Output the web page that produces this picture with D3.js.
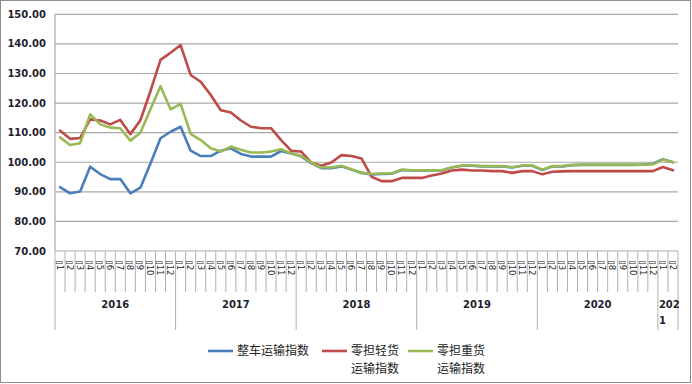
<!DOCTYPE html>
<html>
<head>
<meta charset="utf-8">
<script src="https://cdn.jsdelivr.net/npm/d3@7"></script>
<style>
  body { margin: 0; background: #fff; }
  svg { display: block; }
</style>
</head>
<body>
<div id="chart"></div>
<script>
// Years shown on the second level of the category axis.
const years = ["2016", "2017", "2018", "2019", "2020", "2021"];
// Months present in each year (2021 only has Jan and Feb).
const monthsPerYear = [12, 12, 12, 12, 12, 2];
// Series names for the legend.
const seriesNames = ["整车运输指数", "零担轻货运输指数", "零担重货运输指数"];
// Y axis ticks.
const yTicks = [70, 80, 90, 100, 110, 120, 130, 140, 150];

// 整车运输指数
const wholeTruck = [
  91.6, 89.5, 90.1, 98.5, 96.0, 94.3, 94.3, 89.5, 91.4, 99.6, 108.1, 110.3,
  112.0, 103.9, 102.1, 102.1, 103.9, 104.7, 102.8, 101.9, 101.9, 101.9, 103.8, 103.0,
  102.0, 99.7, 98.0, 98.0, 98.6, 97.5, 96.4, 95.9, 96.0, 96.1, 97.4, 97.2,
  97.2, 97.2, 97.2, 98.2, 98.8, 98.8, 98.6, 98.6, 98.6, 98.2, 98.8, 98.8,
  97.4, 98.6, 98.6, 99.0, 99.1, 99.1, 99.1, 99.1, 99.1, 99.1, 99.2, 99.5,
  101.0, 100.0
];
// 零担轻货运输指数
const lightFreight = [
  110.7, 107.9, 108.2, 114.5, 114.1, 112.8, 114.3, 109.5, 114.2, 124.0, 134.6, 137.0,
  139.6, 129.5, 127.2, 122.7, 117.6, 116.8, 114.1, 112.0, 111.5, 111.5, 107.5, 103.9,
  103.6, 99.9, 98.8, 99.9, 102.4, 102.1, 101.3, 95.1, 93.6, 93.6, 94.7, 94.7,
  94.7, 95.5, 96.2, 97.2, 97.5, 97.2, 97.2, 97.0, 97.0, 96.4, 97.0, 97.0,
  95.9, 96.8, 96.9, 97.0, 97.0, 97.0, 97.0, 97.0, 97.0, 97.0, 97.0, 97.0,
  98.4, 97.3
];
// 零担重货运输指数
const heavyFreight = [
  108.4, 105.8, 106.4, 116.2, 112.8, 111.7, 111.5, 107.3, 110.0, 117.9, 125.7, 117.9,
  119.7, 109.6, 107.5, 104.7, 103.6, 105.3, 104.2, 103.3, 103.3, 103.6, 104.4, 103.0,
  102.1, 99.9, 98.2, 98.2, 98.8, 97.6, 96.5, 96.0, 96.2, 96.2, 97.5, 97.3,
  97.3, 97.3, 97.3, 98.3, 98.9, 98.9, 98.7, 98.7, 98.7, 98.3, 98.9, 98.9,
  97.5, 98.7, 98.7, 99.1, 99.2, 99.2, 99.2, 99.2, 99.2, 99.2, 99.2, 99.3,
  100.9, 100.0
];

const colors = ["#4a7ebb", "#be4b48", "#98b954"];
const seriesData = [wholeTruck, lightFreight, heavyFreight];

const width = 692, height = 384;
const plot = { left: 55, right: 678, top: 14.3, bottom: 251 };

// Build the category list (year, month) from the tick arrays.
const categories = [];
years.forEach((yr, yi) => {
  for (let m = 1; m <= monthsPerYear[yi]; m++) categories.push({ year: yr, month: m });
});

const svg = d3.select("#chart").append("svg")
  .attr("width", width)
  .attr("height", height);

// Outer chart border.
svg.append("rect")
  .attr("x", 0.5).attr("y", 0.5)
  .attr("width", width - 2).attr("height", height - 2)
  .attr("fill", "#fff")
  .attr("stroke", "#8c8c8c");

const x = d3.scaleBand()
  .domain(d3.range(categories.length))
  .range([plot.left, plot.right]);

const y = d3.scaleLinear()
  .domain([70, 150])
  .range([plot.bottom, plot.top]);

// Horizontal gridlines.
svg.append("g").selectAll("line")
  .data(yTicks)
  .join("line")
  .attr("x1", plot.left).attr("x2", plot.right)
  .attr("y1", d => y(d)).attr("y2", d => y(d))
  .attr("stroke", "#a8a8a8")
  .attr("stroke-width", 1.2);

// Left axis line.
svg.append("line")
  .attr("x1", plot.left).attr("x2", plot.left)
  .attr("y1", plot.top).attr("y2", plot.bottom)
  .attr("stroke", "#a8a8a8")
  .attr("stroke-width", 1.2);

// Y tick labels.
svg.append("g").selectAll("text")
  .data(yTicks)
  .join("text")
  .attr("x", 46)
  .attr("y", d => y(d))
  .attr("dy", "0.36em")
  .attr("text-anchor", "end")
  .attr("font-family", "DejaVu Sans")
  .attr("font-size", "10px")
  .attr("font-weight", "bold")
  .attr("fill", "#1f1f2e")
  .text(d => d.toFixed(2));

// Category separators (month level), longer at year boundaries.
const boundaries = d3.range(categories.length + 1);
svg.append("g").selectAll("line")
  .data(boundaries)
  .join("line")
  .attr("x1", i => plot.left + i * x.step())
  .attr("x2", i => plot.left + i * x.step())
  .attr("y1", plot.bottom)
  .attr("y2", i => (i === categories.length || (i < categories.length && categories[i].month === 1)) ? 330 : 292)
  .attr("stroke", "#b0b0b0")
  .attr("stroke-width", 1);

// Month labels, rotated.
svg.append("g").selectAll("text")
  .data(categories)
  .join("text")
  .attr("transform", (d, i) => `translate(${x(i) + x.bandwidth() / 2 - 3.2},260) rotate(90)`)
  .attr("font-family", "DejaVu Sans")
  .attr("font-size", "8.5px")
  .attr("fill", "#1f1f2e")
  .text(d => "▯" + d.month);

// Year labels.
let start = 0;
years.forEach((yr, yi) => {
  const n = monthsPerYear[yi];
  const x0 = plot.left + start * x.step();
  const x1 = plot.left + (start + n) * x.step();
  const t = svg.append("text")
    .attr("font-family", "DejaVu Sans")
    .attr("font-size", "10px")
    .attr("font-weight", "bold")
    .attr("fill", "#1f1f2e");
  if (n >= 4) {
    t.attr("x", (x0 + x1) / 2).attr("y", 308).attr("text-anchor", "middle").text(yr);
  } else {
    t.append("tspan").attr("x", x0 + 1).attr("y", 308).text(yr.slice(0, 3));
    t.append("tspan").attr("x", x0 + 1).attr("y", 324).text(yr.slice(3));
  }
  start += n;
});

// Series lines.
const line = d3.line()
  .x((d, i) => x(i) + x.bandwidth() / 2)
  .y(d => y(d));

seriesData.forEach((s, k) => {
  svg.append("path")
    .datum(s)
    .attr("d", line)
    .attr("fill", "none")
    .attr("stroke", colors[k])
    .attr("stroke-width", 2.6)
    .attr("stroke-linejoin", "round")
    .attr("stroke-linecap", "round");
});

// Legend: long names wrap onto two lines.
const legendItems = [
  { x: 208, lines: [seriesNames[0]] },
  { x: 322, lines: [seriesNames[1].slice(0, 4), seriesNames[1].slice(4)] },
  { x: 408, lines: [seriesNames[2].slice(0, 4), seriesNames[2].slice(4)] }
];
legendItems.forEach((item, k) => {
  svg.append("line")
    .attr("x1", item.x).attr("x2", item.x + 25)
    .attr("y1", 351).attr("y2", 351)
    .attr("stroke", colors[k])
    .attr("stroke-width", 2.6);
  item.lines.forEach((s, j) => {
    svg.append("text")
      .attr("x", item.x + 29)
      .attr("y", 355.2 + j * 17.5)
      .attr("font-family", "Noto Sans CJK SC")
      .attr("font-size", "12px")
      .attr("fill", "#222")
      .text(s);
  });
});
</script>
</body>
</html>
